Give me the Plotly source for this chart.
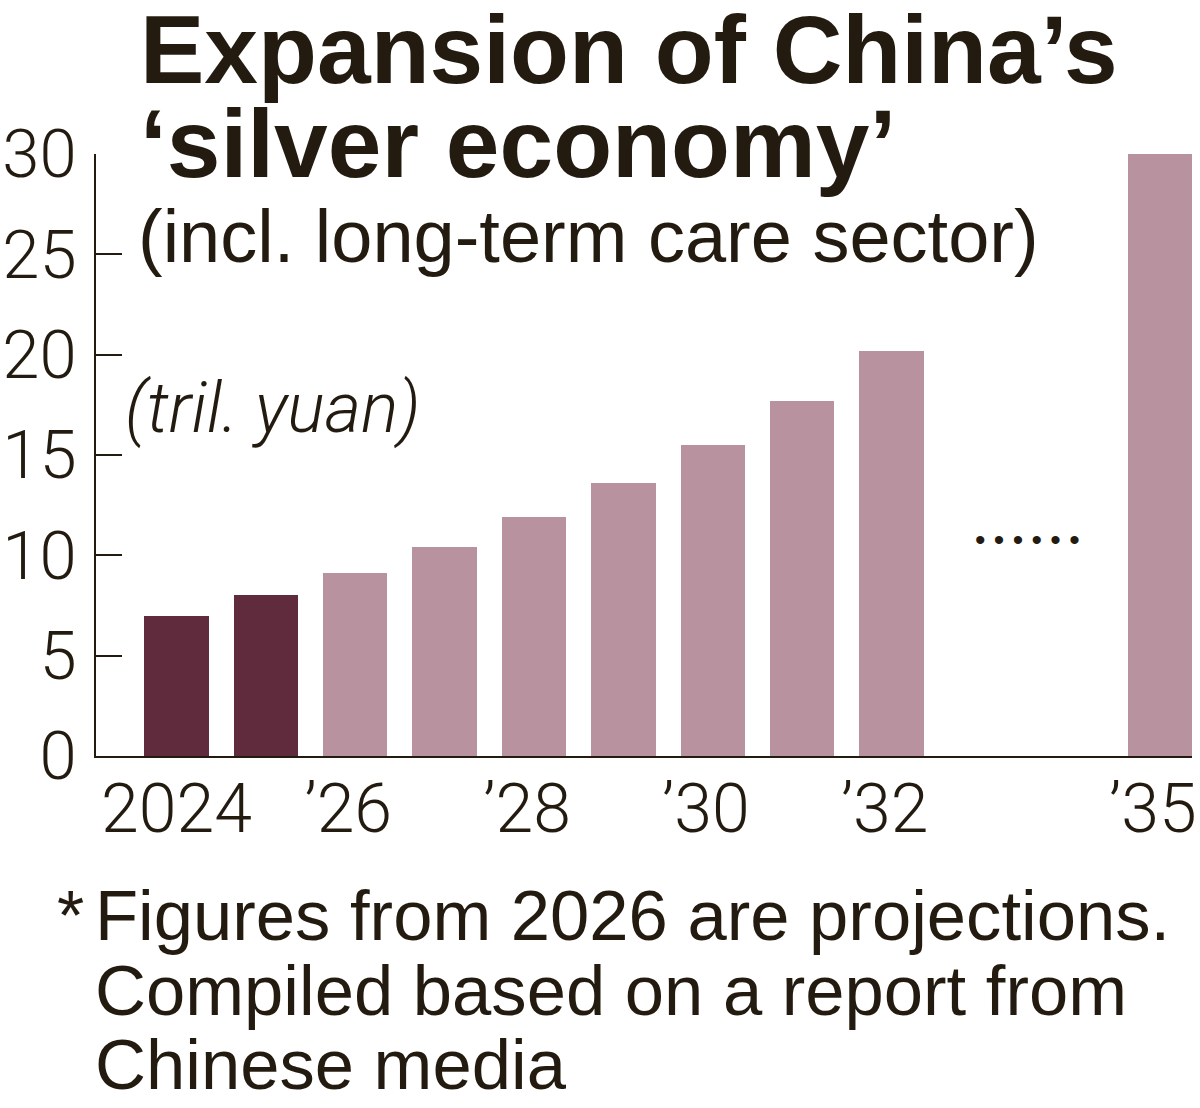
import plotly.graph_objects as go

# ---- data ----
actual_years = [2024, 2025]
actual_values = [7.0, 8.0]
proj_years = [2026, 2027, 2028, 2029, 2030, 2031, 2032, 2035]
proj_values = [9.1, 10.4, 11.9, 13.6, 15.5, 17.7, 20.2, 30.0]
x_tick_vals = [2024, 2026, 2028, 2030, 2032, 2035]
x_tick_text = ["2024", "\u201926\u2009", "\u201928\u2009", "\u201930\u2009",
               "\u201932\u2009", "\u201935\u2009"]
y_tick_vals = [0, 5, 10, 15, 20, 25, 30]

title_line1 = "Expansion of China\u2019s"
title_line2 = "\u2018silver economy\u2019"
subtitle = "(incl. long-term care sector)"
unit_label = "(tril. yuan)"
note_lines = ["Figures from 2026 are projections.",
              "Compiled based on a report from",
              "Chinese media"]

INK = "#231b10"
DARK = "#5f2b3d"
LIGHT = "#b8929e"

W, H = 1200, 1108
ML, MR, MT, MB = 96, 8, 154, 352
PW, PH = W - ML - MR, H - MT - MB

def px(x):
    return (x - ML) / PW

def py(y):
    return (H - MB - y) / PH

fig = go.Figure()
fig.add_trace(go.Bar(x=actual_years, y=actual_values, width=0.72,
                     marker=dict(color=DARK, line=dict(width=0)), showlegend=False))
fig.add_trace(go.Bar(x=proj_years, y=proj_values, width=0.72,
                     marker=dict(color=LIGHT, line=dict(width=0)), showlegend=False))

LIGHTFONT = dict(family="Roboto", weight=300, color=INK)

fig.update_layout(
    width=W, height=H,
    margin=dict(l=ML, r=MR, t=MT, b=MB),
    paper_bgcolor="white", plot_bgcolor="white",
    bargap=0,
    xaxis=dict(range=[2023.1, 2035.36], tickvals=x_tick_vals, ticktext=x_tick_text,
               showgrid=False, zeroline=False, showline=True, linecolor=INK, linewidth=2,
               ticks="", tickfont=dict(size=68, **LIGHTFONT), ticklabelstandoff=-8,
               ticklabeloverflow="allow", automargin=False, fixedrange=True),
    yaxis=dict(range=[0, 30], tickvals=y_tick_vals, showgrid=False, zeroline=False,
               showline=True, linecolor=INK, linewidth=2,
               ticks="inside", ticklen=26, tickwidth=2, tickcolor=INK,
               tickfont=dict(size=67, **LIGHTFONT), ticklabelstandoff=4,
               ticklabeloverflow="allow", automargin=False, fixedrange=True),
)

def ann(text, x, y, size, family="Liberation Sans", weight=None, xanchor="left",
        italic=False):
    f = dict(family=family, size=size, color=INK)
    if weight is not None:
        f["weight"] = weight
    if italic:
        f["style"] = "italic"
    fig.add_annotation(text=text, xref="paper", yref="paper", x=px(x), y=py(y),
                       xanchor=xanchor, yanchor="middle", showarrow=False, font=f)

# title block (y = baseline - 0.3465*size)
ann(title_line1, 138, 83 - 0.3465 * 96.5, 96.5, weight=700)
ann(title_line2, 138, 177 - 0.3465 * 96.5, 96.5, weight=700)
ann(subtitle, 136, 262 - 0.3465 * 74, 74)
ann(unit_label, 123, 432 - 0.3465 * 70, 70, family="Roboto", weight=300, italic=True)
# ellipsis between '32 and '35
ann("\u2022 \u2022 \u2022 \u2022 \u2022 \u2022", 1027, 539, 30, xanchor="center")
# footnote
ann("*", 55, 940 - 0.3465 * 70, 70)
for i, line in enumerate(note_lines):
    ann(line, 93, 940 + i * 74.5 - 0.3465 * 70.6, 70.6)

fig.write_html("out.html")
